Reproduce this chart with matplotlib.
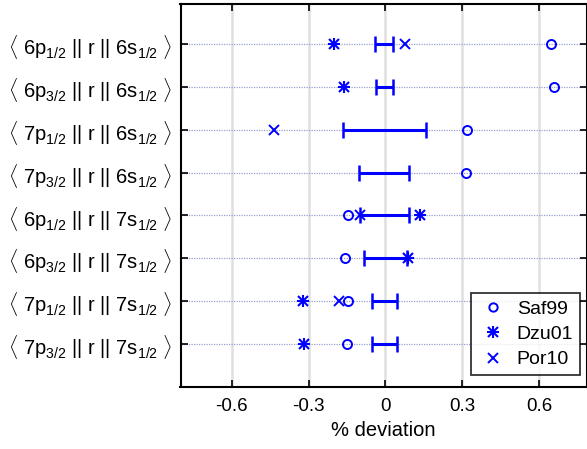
import matplotlib
matplotlib.use("Agg")
import matplotlib.pyplot as plt
from matplotlib.lines import Line2D

plt.rcParams['font.family'] = ['Liberation Sans', 'DejaVu Sans']
plt.rcParams['mathtext.fontset'] = 'custom'
plt.rcParams['mathtext.rm'] = 'Liberation Sans'
plt.rcParams['mathtext.it'] = 'Liberation Sans'

# transitions (top to bottom)
labels = [
    r'$\langle$ 6p$_{1/2}$ || r || 6s$_{1/2}$ $\rangle$',
    r'$\langle$ 6p$_{3/2}$ || r || 6s$_{1/2}$ $\rangle$',
    r'$\langle$ 7p$_{1/2}$ || r || 6s$_{1/2}$ $\rangle$',
    r'$\langle$ 7p$_{3/2}$ || r || 6s$_{1/2}$ $\rangle$',
    r'$\langle$ 6p$_{1/2}$ || r || 7s$_{1/2}$ $\rangle$',
    r'$\langle$ 6p$_{3/2}$ || r || 7s$_{1/2}$ $\rangle$',
    r'$\langle$ 7p$_{1/2}$ || r || 7s$_{1/2}$ $\rangle$',
    r'$\langle$ 7p$_{3/2}$ || r || 7s$_{1/2}$ $\rangle$',
]
rows = [1, 2, 3, 4, 5, 6, 7, 8]

# error bar extents (% deviation)
bar_lo = [-0.040, -0.036, -0.167, -0.104, -0.099, -0.082, -0.053, -0.053]
bar_hi = [0.031, 0.029, 0.159, 0.094, 0.091, 0.083, 0.046, 0.046]

# other works (None = missing)
saf99 = [0.645, 0.660, 0.319, 0.315, -0.145, -0.156, -0.147, -0.150]
dzu01 = [-0.199, -0.160, None, None, 0.135, 0.087, -0.323, -0.319]
por10 = [0.075, None, -0.436, None, -0.099, None, -0.180, None]

xticks = [-0.6, -0.3, 0, 0.3, 0.6]
xticklabels = ['-0.6', '-0.3', '0', '0.3', '0.6']

blue = (0, 0, 1)

fig = plt.figure(figsize=(5.87, 4.49), dpi=100)
ax = fig.add_axes([180.5 / 587, 1 - 387 / 449, 406 / 587, 383 / 449])

for x in xticks:
    ax.axvline(x, color='#e0e0e0', lw=1.8, zorder=0)
for r in rows:
    ax.axhline(r, color='#9aa0d0', lw=0.9, ls=(0, (1, 1)), zorder=1)

centers = [(a + b) / 2 for a, b in zip(bar_lo, bar_hi)]
errs = [(b - a) / 2 for a, b in zip(bar_lo, bar_hi)]
ax.errorbar(centers, rows, xerr=errs, fmt='none', ecolor=blue,
            elinewidth=2.2, capsize=5.5, capthick=1.8, zorder=3)

def pts(vals):
    xs, ys = [], []
    for v, r in zip(vals, rows):
        if v is not None:
            xs.append(v)
            ys.append(r)
    return xs, ys

x, y = pts(saf99)
ax.plot(x, y, 'o', ls='none', ms=6.5, mfc='none', mec=blue, mew=1.4, zorder=4)
x, y = pts(dzu01)
ax.plot(x, y, '+', ls='none', ms=9, mec=blue, mew=1.5, zorder=4)
ax.plot(x, y, 'x', ls='none', ms=7, mec=blue, mew=1.5, zorder=4)
x, y = pts(por10)
ax.plot(x, y, 'x', ls='none', ms=7, mec=blue, mew=1.4, zorder=4)

ax.set_xlim(-0.8, 0.785)
ax.set_ylim(9.0, 0.07)
ax.set_xticks(xticks)
ax.set_xticklabels(xticklabels)
ax.set_yticks(rows)
ax.set_yticklabels(labels)
ax.tick_params(direction='in', length=5, width=1.2, top=True, right=True)
ax.tick_params(axis='x', labelsize=13.5, pad=8)
ax.tick_params(axis='y', labelsize=14.5, pad=6)
for s in ax.spines.values():
    s.set_linewidth(1.5)
ax.set_xlabel('% deviation', fontsize=14.5, labelpad=4)

h1 = Line2D([], [], ls='none', marker='o', ms=6, mfc='none', mec=blue, mew=1.4)
h2a = Line2D([], [], ls='none', marker='+', ms=8.5, mec=blue, mew=1.5)
h2b = Line2D([], [], ls='none', marker='x', ms=6.5, mec=blue, mew=1.5)
h3 = Line2D([], [], ls='none', marker='x', ms=6.5, mec=blue, mew=1.4)
leg = ax.legend([h1, (h2a, h2b), h3], ['Saf99', 'Dzu01', 'Por10'],
                loc='lower right', fontsize=14, frameon=True, fancybox=False,
                borderpad=0.35, handletextpad=0.4, labelspacing=0.4,
                handlelength=1.6, borderaxespad=0,
                bbox_to_anchor=(0.984, 0.031))
leg.get_frame().set_edgecolor('black')
leg.get_frame().set_linewidth(1.3)

fig.savefig('out.png', dpi=100)
